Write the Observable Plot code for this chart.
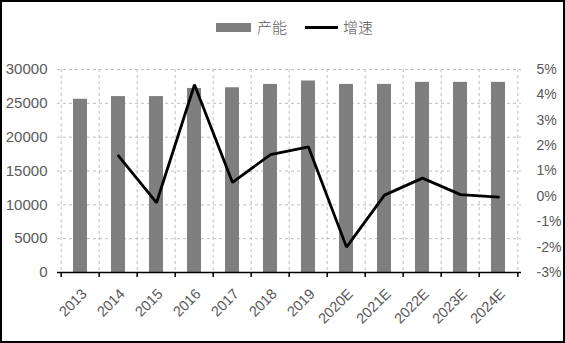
<!DOCTYPE html>
<html><head><meta charset="utf-8">
<script src="https://cdn.jsdelivr.net/npm/d3@7"></script>
<script src="https://cdn.jsdelivr.net/npm/@observablehq/plot@0.6"></script>
<style>
body{margin:0;background:#fff;}
#wrap{position:relative;width:565px;height:343px;overflow:hidden;background:#fff;}
#frame{position:absolute;left:0;top:0;width:565px;height:343px;box-sizing:border-box;border:2px solid #000;pointer-events:none;}
.lg{position:absolute;font-family:"Noto Sans CJK SC",sans-serif;font-size:15px;color:#595959;line-height:15px;font-weight:300;}
#sw1{position:absolute;left:216px;top:23px;width:35px;height:9px;background:#7f7f7f;}
#sw2{position:absolute;left:305px;top:26px;width:33px;height:3px;background:#000;}
#chart{position:absolute;left:0;top:0;}
</style></head>
<body>
<div id="wrap">
  <div id="chart"></div>
  <div id="sw1"></div><div class="lg" style="left:257px;top:19px;">产能</div>
  <div id="sw2"></div><div class="lg" style="left:343px;top:19px;">增速</div>
  <div id="frame"></div>
</div>
<script>
const years = ["2013","2014","2015","2016","2017","2018","2019","2020E","2021E","2022E","2023E","2024E"];
const capacity = [25600,26000,26000,27200,27300,27800,28300,27800,27800,28100,28100,28100];
const growth = [null,1.6,-0.25,4.4,0.55,1.65,1.95,-2.0,0.05,0.72,0.07,-0.03];
const leftTicks = [0,5000,10000,15000,20000,25000,30000];
const rightTicks = [-3,-2,-1,0,1,2,3,4,5];

const W = 565, H = 343, mL = 57, mR = 44, mT = 69, mB = 71;
const yMax = 30000, gMin = -3, gMax = 5;
const g2y = g => (g - gMin) / (gMax - gMin) * yMax;
const y2g = v => v / yMax * (gMax - gMin) + gMin;
const step = (W - mL - mR) / years.length;

const bars = years.map((d, i) => ({year: d, value: capacity[i]}));
const line = years.map((d, i) => ({year: d, g: growth[i]})).filter(d => d.g != null);

const grid = {stroke: "#bfbfbf", strokeDasharray: "3,3", strokeWidth: 1};

const chart = Plot.plot({
  width: W, height: H,
  marginLeft: mL, marginRight: mR, marginTop: mT, marginBottom: mB,
  style: {fontFamily: "Liberation Sans, Arial, sans-serif", background: "transparent"},
  x: {domain: years, paddingInner: 0.62, paddingOuter: 0.31, label: null},
  y: {domain: [0, yMax], label: null},
  marks: [
    Plot.ruleY(leftTicks.filter(d => d > 0), {y: d => d, ...grid}),
    Plot.ruleX(years, {x: d => d, dx: -step / 2, ...grid}),
    Plot.ruleX([years[years.length - 1]], {x: d => d, dx: step / 2, ...grid}),
    Plot.barY(bars, {x: "year", y: "value", fill: "#7f7f7f"}),
    Plot.line(line, {x: "year", y: d => g2y(d.g), stroke: "#000", strokeWidth: 2.8, strokeLinejoin: "miter"}),
    Plot.ruleY([0], {stroke: "#000", strokeWidth: 1.5}),
    Plot.ruleX(years, {x: d => d, y1: 0, y2: 0, dx: -step / 2, insetBottom: -5, stroke: "#000", strokeWidth: 1.5}),
    Plot.ruleX([years[years.length - 1]], {x: d => d, y1: 0, y2: 0, dx: step / 2, insetBottom: -5, stroke: "#000", strokeWidth: 1.5}),
    Plot.axisY({ticks: leftTicks, tickSize: 0, tickPadding: 10, fontSize: 15, color: "#595959", label: null, tickFormat: d => String(d)}),
    Plot.axisY(rightTicks.map(g2y), {anchor: "right", tickSize: 0, tickPadding: 15, fontSize: 14, color: "#595959", label: null, tickFormat: d => Math.round(y2g(d)) + "%"}),
    Plot.axisX({tickSize: 0, tickPadding: 19, dx: 4, tickRotate: -45, fontSize: 14.5, color: "#595959", label: null})
  ]
});
document.getElementById("chart").appendChild(chart);
</script>
</body></html>
